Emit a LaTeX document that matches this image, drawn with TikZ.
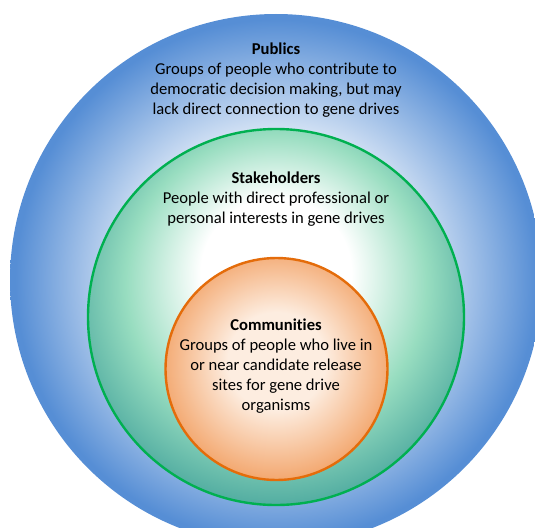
\documentclass[tikz,border=0pt]{standalone}
\usepackage{fontspec}
\setmainfont{Carlito}[Ligatures={NoCommon,NoContextual}]
\definecolor{blueE}{RGB}{86,142,213}
\definecolor{mintM}{RGB}{152,221,192}
\definecolor{tealE}{RGB}{84,174,162}
\definecolor{greenS}{RGB}{0,176,80}
\definecolor{orangeE}{RGB}{243,168,112}
\definecolor{orangeC}{RGB}{253,237,224}
\definecolor{orangeS}{RGB}{228,108,10}
\pgfdeclareradialshading{bluesh}{\pgfpoint{0bp}{0bp}}{color(0bp)=(white); color(10.5bp)=(white); color(24.5bp)=(blueE); color(50bp)=(blueE)}
\pgfdeclareradialshading{greensh}{\pgfpoint{0bp}{7.3bp}}{color(0bp)=(white); color(10bp)=(white); color(20bp)=(mintM); color(28bp)=(tealE); color(50bp)=(tealE)}
\pgfdeclareradialshading{orangesh}{\pgfpoint{0bp}{2.3bp}}{color(0bp)=(orangeC); color(11bp)=(orangeC); color(26bp)=(orangeE); color(50bp)=(orangeE)}
\tikzset{
  lbl/.style={align=center, inner sep=0pt, anchor=base, font=\fontsize{16.6}{20}\selectfont},
  ring/.style={line width=2.4pt}
}
\begin{document}
\begin{tikzpicture}[x=1pt,y=-1pt]
\useasboundingbox (0,0) rectangle (535,527);
\clip (0,0) rectangle (535,527);
\coordinate (cp) at (276,280);
\coordinate (cs) at (276,317);
\coordinate (cc) at (276.5,369);
\shade[shading=bluesh] (cp) circle[radius=266];
\shade[shading=greensh] (cs) circle[radius=188];
\draw[ring, greenS] (cs) circle[radius=188];
\shade[shading=orangesh] (cc) circle[radius=111];
\draw[ring, orangeS] (cc) circle[radius=111];
\node[lbl] (pub) at (276,114) {\textbf{Publics}\\Groups of people who contribute to\\democratic decision making, but may\\lack direct connection to gene drives};
\node[lbl] (stk) at (276,223.5) {\textbf{Stakeholders}\\People with direct professional or\\personal interests in gene drives};
\node[lbl] (com) at (276,410.5) {\textbf{Communities}\\Groups of people who live in\\or near candidate release\\sites for gene drive\\organisms};
\end{tikzpicture}
\end{document}
